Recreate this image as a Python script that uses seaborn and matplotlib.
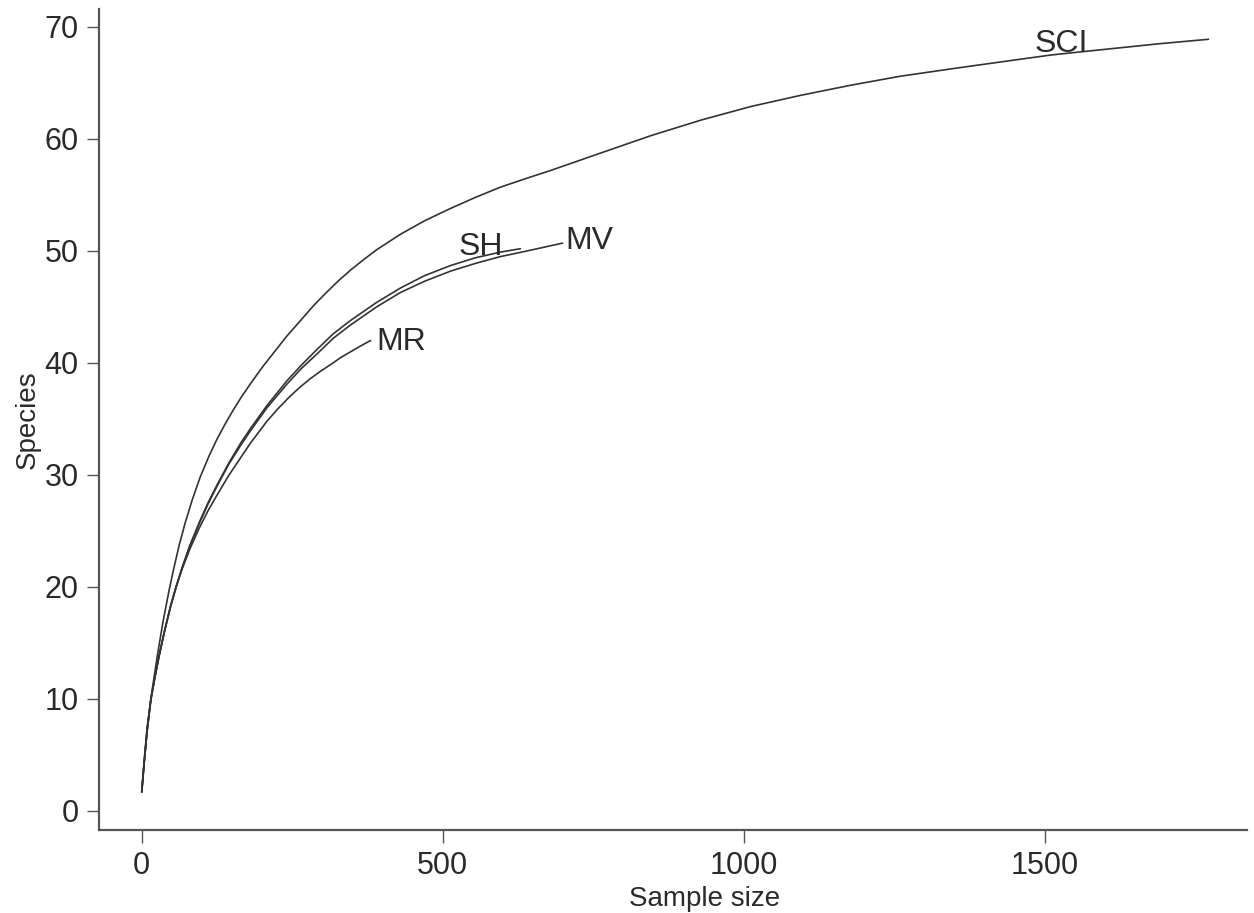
import pandas as pd
import matplotlib.pyplot as plt
import seaborn as sns

# rarefaction curves
sci_x = [0, 4, 9, 17, 26, 35, 45, 53, 62, 72, 84, 97, 111, 125, 138, 152, 166, 180, 200, 219, 241, 264, 285,
         305, 326, 347, 368, 390, 410, 430, 470, 513, 555, 596, 640, 680, 760, 846, 930, 1012, 1095, 1178,
         1260, 1350, 1430, 1511, 1600, 1690, 1772]
sci_y = [1.7, 4.5, 7.5, 10.7, 13.9, 16.8, 19.6, 21.6, 23.7, 25.7, 27.8, 29.8, 31.6, 33.2, 34.5, 35.8, 37.0, 38.1,
         39.6, 40.9, 42.4, 43.8, 45.1, 46.2, 47.3, 48.3, 49.2, 50.1, 50.8, 51.5, 52.7, 53.8, 54.8, 55.7,
         56.5, 57.2, 58.7, 60.3, 61.7, 62.9, 63.9, 64.8, 65.6, 66.3, 66.9, 67.5, 68.0, 68.5, 68.9]

sh_x = [0, 4, 9, 15, 22, 29, 38, 48, 57, 67, 80, 95, 110, 125, 145, 165, 180, 208, 241, 265, 291, 318, 347,
        390, 430, 470, 513, 555, 596, 629]
sh_y = [1.7, 4.3, 7.2, 9.9, 12.0, 13.9, 16.1, 18.3, 20.0, 21.7, 23.7, 25.7, 27.5, 29.1, 31.1, 32.9, 34.1,
        36.2, 38.4, 39.8, 41.2, 42.6, 43.8, 45.4, 46.7, 47.8, 48.7, 49.4, 49.9, 50.2]

mv_x = [0, 4, 9, 15, 22, 29, 38, 48, 57, 67, 80, 95, 110, 125, 145, 165, 180, 208, 241, 265, 291, 318, 347,
        390, 430, 470, 513, 555, 596, 640, 699]
mv_y = [1.7, 4.3, 7.2, 9.9, 12.0, 13.9, 16.1, 18.3, 20.0, 21.7, 23.7, 25.6, 27.4, 29.0, 31.0, 32.7, 33.9,
        36.0, 38.1, 39.5, 40.8, 42.2, 43.4, 45.0, 46.3, 47.3, 48.2, 48.9, 49.5, 50.0, 50.7]

mr_x = [0, 4, 9, 15, 22, 29, 38, 48, 57, 67, 80, 95, 110, 125, 145, 165, 180, 208, 226, 244, 262, 280, 298,
        315, 331, 347, 363, 380]
mr_y = [1.7, 4.3, 7.2, 9.9, 12.0, 13.9, 16.1, 18.3, 20.0, 21.6, 23.4, 25.2, 26.8, 28.2, 30.0, 31.6, 32.8,
        34.8, 35.9, 36.9, 37.8, 38.6, 39.3, 39.9, 40.5, 41.0, 41.5, 42.0]

sites = ['SCI', 'SH', 'MV', 'MR']
label_x = [1483, 526, 703, 390]
label_y = [67.8, 49.6, 50.2, 41.2]

curves = {'SCI': (sci_x, sci_y), 'SH': (sh_x, sh_y), 'MV': (mv_x, mv_y), 'MR': (mr_x, mr_y)}
frames = []
for s in sites:
    xs, ys = curves[s]
    frames.append(pd.DataFrame({'site': s, 'n': xs, 'species': ys}))
df = pd.concat(frames, ignore_index=True)

sns.set_theme(style='ticks')
plt.rcParams['font.family'] = ['Liberation Sans', 'DejaVu Sans']

fig = plt.figure(figsize=(12.54, 9.13), dpi=100)
ax = fig.add_axes([0.0792, 0.0909, 0.9152, 0.8992])

line_color = '#333333'
sns.lineplot(data=df, x='n', y='species', units='site', estimator=None, sort=False,
             color=line_color, linewidth=1.2, ax=ax)

for s, lx, ly in zip(sites, label_x, label_y):
    ax.text(lx, ly, s, fontsize=23, color='#2a2a2a', ha='left', va='baseline')

ax.set_xlim(-70.5, 1836)
ax.set_ylim(-1.7, 71.6)
ax.set_xticks([0, 500, 1000, 1500])
ax.set_yticks(range(0, 71, 10))
ax.tick_params(axis='both', labelsize=22, length=9, width=1.0, color='#555555',
               labelcolor='#2a2a2a', pad=6, direction='out')
ax.set_xlabel('Sample size', fontsize=20, color='#2a2a2a')
ax.set_ylabel('Species', fontsize=20, color='#2a2a2a')
ax.xaxis.set_label_coords(0.527, -0.068)
ax.yaxis.set_label_coords(-0.051, 0.5)

sns.despine(ax=ax)
for side in ['left', 'bottom']:
    ax.spines[side].set_color('#555555')
    ax.spines[side].set_linewidth(1.6)

plt.savefig('out.png', dpi=100)
